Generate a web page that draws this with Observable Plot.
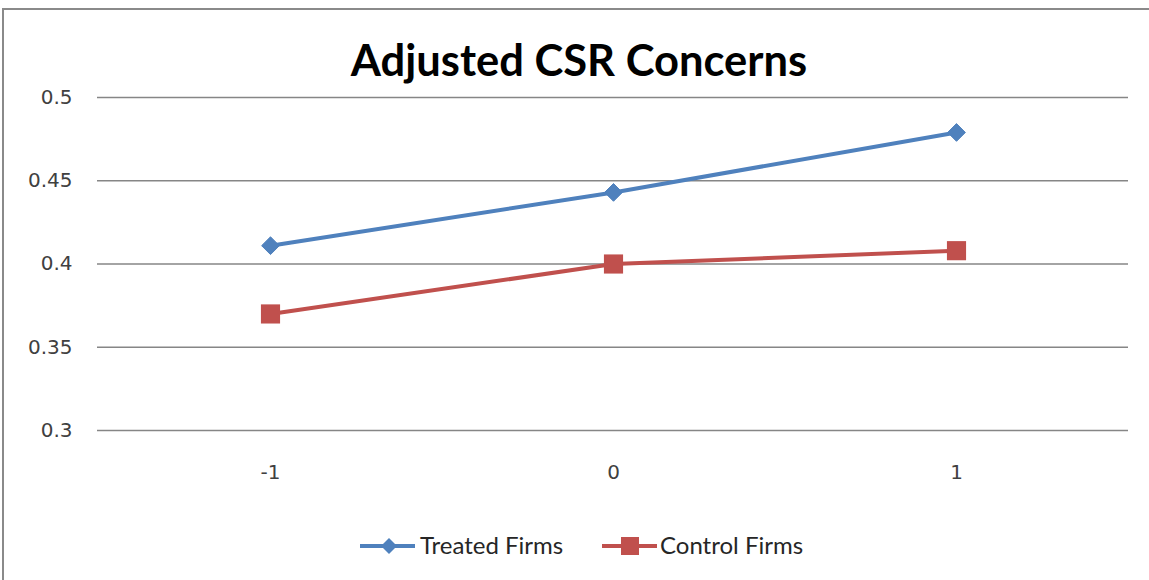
<!DOCTYPE html>
<html>
<head>
<meta charset="utf-8">
<script src="https://cdn.jsdelivr.net/npm/d3@7"></script>
<script src="https://cdn.jsdelivr.net/npm/@observablehq/plot@0.6"></script>
<style>
  html, body { margin: 0; padding: 0; background: #fff; overflow: hidden; }
  #wrap { position: relative; width: 1149px; height: 580px; overflow: hidden; background: #fff; }
  #frame { position: absolute; left: 2px; top: 8px; width: 1200px; height: 640px; border: 2px solid #8a8a8a; box-sizing: border-box; }
  #title { position: absolute; left: 0; width: 1158px; top: 38px; text-align: center; font-family: Lato, "Open Sans", sans-serif; font-weight: 700; font-size: 43.5px; color: #000; line-height: 1; }
  #chart { position: absolute; left: 0; top: 0; }
  #legend { position: absolute; left: 0; top: 530px; }
</style>
</head>
<body>
<div id="wrap">
  <div id="frame"></div>
  <div id="chart"></div>
  <div id="title">Adjusted CSR Concerns</div>
  <div id="legend"></div>
</div>
<script>
const periods = ["-1", "0", "1"];
const treatedValues = [0.411, 0.443, 0.479];
const controlValues = [0.370, 0.400, 0.408];
const yTicks = [0.3, 0.35, 0.4, 0.45, 0.5];
const seriesNames = ["Treated Firms", "Control Firms"];
const seriesColors = ["#4F81BD", "#C0504D"];

const rows = [];
periods.forEach((p, i) => {
  rows.push({period: p, value: treatedValues[i], series: seriesNames[0]});
  rows.push({period: p, value: controlValues[i], series: seriesNames[1]});
});
const treatedRows = rows.filter(d => d.series === seriesNames[0]);
const controlRows = rows.filter(d => d.series === seriesNames[1]);

const chart = Plot.plot({
  width: 1149,
  height: 580,
  marginTop: 97,
  marginBottom: 150,
  marginLeft: 97,
  marginRight: 21,
  style: {background: "transparent", fontFamily: "DejaVu Sans, Verdana, sans-serif", fontSize: "20px", color: "#404040", overflow: "visible"},
  x: {type: "point", domain: periods, padding: 0.5, label: null},
  y: {domain: [0.3, 0.5], label: null},
  marks: [
    Plot.ruleY(yTicks, {stroke: "#868686", strokeWidth: 1.3}),
    Plot.axisY({ticks: yTicks, tickFormat: d => String(d), tickSize: 0, tickPadding: 25, fill: "#404040", fontSize: 20, label: null}),
    Plot.axisX({tickSize: 0, tickPadding: 34, fill: "#404040", fontSize: 20, label: null}),
    Plot.line(treatedRows, {x: "period", y: "value", stroke: seriesColors[0], strokeWidth: 4}),
    Plot.line(controlRows, {x: "period", y: "value", stroke: seriesColors[1], strokeWidth: 4}),
    Plot.dot(treatedRows, {x: "period", y: "value", symbol: "diamond2", r: 8, fill: seriesColors[0], stroke: seriesColors[0], strokeWidth: 1}),
    Plot.dot(controlRows, {x: "period", y: "value", symbol: "square", r: 10.8, fill: seriesColors[1], stroke: "none"})
  ]
});
document.getElementById("chart").appendChild(chart);

// Legend
const leg = d3.select("#legend").append("svg").attr("width", 1149).attr("height", 40)
  .style("font-family", "Lato, 'Open Sans', sans-serif").style("font-size", "24px");
const legItems = [
  {name: seriesNames[0], color: seriesColors[0], x0: 360, x1: 415, mx: 389, sym: "diamond", tx: 420},
  {name: seriesNames[1], color: seriesColors[1], x0: 602, x1: 657, mx: 630, sym: "square", tx: 660}
];
legItems.forEach(it => {
  leg.append("line").attr("x1", it.x0).attr("x2", it.x1).attr("y1", 16).attr("y2", 16)
    .attr("stroke", it.color).attr("stroke-width", 4);
  if (it.sym === "diamond") {
    leg.append("path").attr("transform", `translate(${it.mx},16)`)
      .attr("d", "M0,-8L8,0L0,8L-8,0Z").attr("fill", it.color);
  } else {
    leg.append("rect").attr("x", it.mx - 9).attr("y", 7).attr("width", 18).attr("height", 18).attr("fill", it.color);
  }
  leg.append("text").attr("x", it.tx).attr("y", 16).attr("dy", "0.35em").attr("fill", "#262626").text(it.name);
});
</script>
</body>
</html>
